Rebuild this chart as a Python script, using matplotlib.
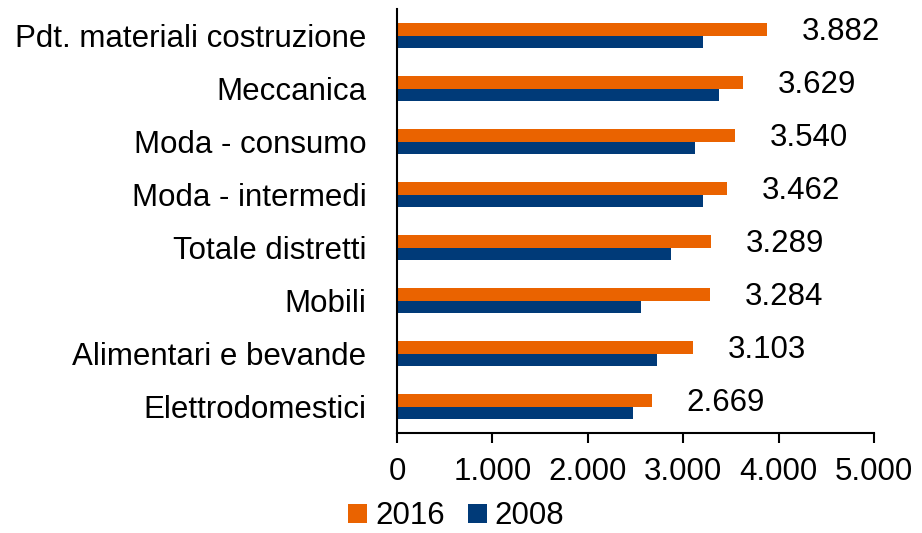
import matplotlib.pyplot as plt
import numpy as np

plt.rcParams["font.family"] = ["Liberation Sans", "DejaVu Sans"]

categories = ["Pdt. materiali costruzione", "Meccanica", "Moda - consumo",
              "Moda - intermedi", "Totale distretti", "Mobili",
              "Alimentari e bevande", "Elettrodomestici"]
values_2016 = [3882, 3629, 3540, 3462, 3289, 3284, 3103, 2669]
values_2008 = [3210, 3370, 3120, 3210, 2870, 2560, 2720, 2470]
labels_2016 = ["3.882", "3.629", "3.540", "3.462", "3.289", "3.284", "3.103", "2.669"]
xticks = [0, 1000, 2000, 3000, 4000, 5000]
xtick_labels = ["0", "1.000", "2.000", "3.000", "4.000", "5.000"]

orange = "#EA6300"
blue = "#003A78"
fs = 22.5

fig = plt.figure(figsize=(9.22, 5.33), dpi=100)
ax = fig.add_axes([0.4306, 0.1876, 0.5174, 0.7954])

y = np.arange(len(categories))[::-1]
h = 0.24
ax.barh(y + h / 2, values_2016, height=h, color=orange, label="2016")
ax.barh(y - h / 2, values_2008, height=h, color=blue, label="2008")

# value labels for 2016 only
for yi, v, lab in zip(y, values_2016, labels_2016):
    ax.annotate(lab, (v, yi + h / 2), xytext=(25, -2), textcoords="offset points",
                ha="left", va="center", fontsize=fs)

ax.set_xlim(0, 5000)
ax.set_ylim(-0.5, len(categories) - 0.5)
ax.set_xticks(xticks)
ax.set_xticklabels(xtick_labels, fontsize=fs)
ax.set_yticks(y)
ax.set_yticklabels(categories, fontsize=fs)
ax.tick_params(axis="y", length=0, pad=22)
ax.tick_params(axis="x", length=7, width=1.5, direction="out", pad=10)
for s in ["top", "right"]:
    ax.spines[s].set_visible(False)
for s in ["left", "bottom"]:
    ax.spines[s].set_linewidth(1.5)

handles, labels = ax.get_legend_handles_labels()
fig.legend(handles, labels, loc="lower center", bbox_to_anchor=(0.495, 0.0), ncol=2,
           frameon=False, fontsize=fs, handlelength=0.6, handleheight=0.6,
           handletextpad=0.25, columnspacing=0.75, borderpad=0.05, borderaxespad=0.0)

fig.savefig("out.png", dpi=100)
